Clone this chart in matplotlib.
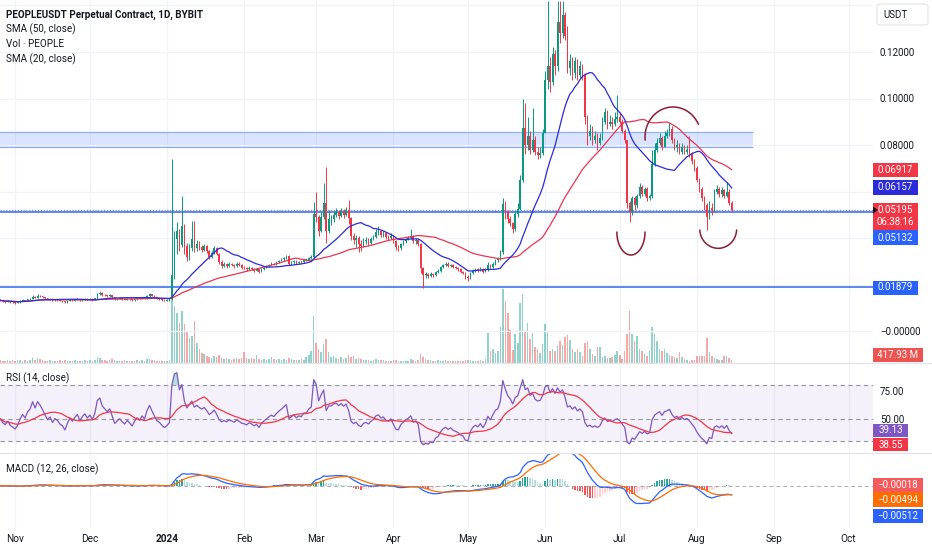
import matplotlib
matplotlib.use('Agg')
import matplotlib.pyplot as plt
from matplotlib.patches import Rectangle, FancyBboxPatch, Polygon
from matplotlib.lines import Line2D
import numpy as np
import pandas as pd

plt.rcParams['font.family'] = ['Roboto', 'DejaVu Sans']

# ---------------- data (prices in 0.001 USDT, volume in millions) ----------------
first_day = '2023-10-26'
first_open_m = 13.4

close_m = [
    13.2, 12.8, 12.6, 12.9, 12.5, 12.3,
    12.1, 12.4, 12.9, 13.3, 13.0, 13.6, 13.9, 14.8, 14.3, 15.2, 14.9, 14.5, 14.0, 13.5, 13.8,
    13.2, 13.6, 13.4, 13.0, 12.8, 12.3, 12.9, 13.4, 13.1, 13.5, 13.8, 13.2, 13.6, 13.9, 13.5,
    13.8, 13.4, 14.0, 15.9, 16.4, 15.6, 15.3, 15.0, 15.4, 14.6, 13.6, 13.9, 14.2, 13.8, 13.5,
    13.9, 13.6, 13.2, 13.7, 14.1, 13.8, 14.3, 14.0, 15.0, 15.8, 15.2, 14.6, 14.0, 13.8, 13.4, 13.1,
    13.3, 13.6, 24.0, 39.5, 43.0, 37.0, 45.0, 36.5, 32.0, 35.5, 39.5, 35.5, 37.5, 36.0, 35.0,
    36.5, 34.5, 32.0, 33.5, 35.5, 33.0, 29.5, 28.0, 28.8, 28.0, 29.0, 28.5, 27.8, 28.8, 28.2, 27.3,
    27.0, 26.5, 27.2, 26.8, 26.0, 26.5, 25.3, 26.5, 27.2, 27.8, 28.5, 29.0, 28.6, 29.5, 30.2,
    30.8, 31.5, 32.2, 29.0, 29.5, 30.0, 29.3, 29.8, 29.6, 30.5, 30.5, 31.5, 32.0, 50.5,
    49.0, 43.0, 49.0, 55.0, 43.0, 48.0, 48.0, 50.0, 51.0, 49.5, 51.5, 50.0, 52.0, 48.5, 41.0,
    39.0, 40.0, 37.5, 36.5, 38.5, 39.0, 38.0, 39.5, 40.5, 42.5, 43.0, 41.5, 42.0, 40.5, 40.0, 41.0,
    38.5, 36.0, 35.5, 37.5, 38.5, 39.5, 40.0, 41.0, 38.5, 39.0, 37.5, 27.0, 24.0, 24.5, 23.8,
    24.5, 24.0, 25.5, 26.0, 27.5, 28.5, 29.0, 28.0, 28.5, 27.5, 27.0, 26.5, 25.5, 25.0, 23.0,
    22.8, 25.0, 26.0, 26.5, 26.0, 26.8, 25.5, 26.5, 28.5, 27.5, 29.0, 30.5, 31.0, 34.0, 54.5,
    51.0, 48.0, 46.5, 44.0, 50.5, 52.5, 65.0, 87.5, 80.0, 84.0, 78.0, 82.0, 77.0, 75.5, 76.5, 85.0,
    108, 114, 107, 119, 114, 133, 128, 136, 127, 113, 116, 111, 116, 110, 114,
    110, 92, 84, 86, 82, 84, 81, 83, 90, 94, 89, 90, 89, 91, 92,
    90, 86, 82, 55, 51, 57, 54, 58, 62, 59, 61, 57, 58, 72, 78,
    81, 83, 79, 84, 85, 87, 82, 79, 80, 77, 79, 77, 78, 76, 73, 70,
    65, 61, 57, 54, 49, 53, 52, 60, 61, 59, 60.5, 58, 60, 55, 51.95,
]

high_m = [
    13.6, 13.4, 13.1, 13.2, 13.0, 12.8,
    12.6, 12.8, 13.3, 13.7, 13.5, 13.9, 14.3, 15.6, 15.0, 15.8, 15.4, 15.0, 14.6, 14.1, 14.2,
    14.0, 13.9, 13.8, 13.6, 13.2, 13.0, 13.2, 13.7, 13.6, 13.8, 14.1, 13.9, 13.9, 14.3, 14.1,
    14.0, 14.0, 14.3, 16.3, 17.0, 16.6, 15.9, 15.6, 15.8, 15.5, 14.7, 14.2, 14.6, 14.3, 14.0,
    14.2, 14.0, 13.8, 13.9, 14.4, 14.3, 14.6, 14.5, 15.3, 16.3, 16.0, 15.3, 14.8, 14.3, 14.0, 13.6,
    13.8, 14.2, 74.0, 43.0, 47.0, 44.0, 58.0, 46.0, 38.0, 37.5, 47.5, 47.5, 39.0, 38.5, 37.0,
    37.5, 37.0, 35.0, 34.5, 36.5, 36.0, 33.5, 30.5, 29.6, 29.2, 29.5, 29.4, 29.0, 29.5, 29.6, 28.8,
    27.8, 27.5, 27.8, 27.6, 27.0, 27.0, 26.6, 26.9, 27.6, 28.3, 29.0, 29.6, 29.4, 29.9, 30.6,
    31.3, 31.9, 32.8, 32.5, 30.2, 30.4, 30.4, 30.2, 30.3, 31.0, 31.0, 32.0, 32.8, 55.5,
    59.8, 50.0, 51.0, 63.7, 70.5, 52.0, 50.0, 51.5, 53.0, 52.0, 53.0, 52.5, 53.5, 56.3, 49.0,
    42.0, 41.5, 41.0, 39.0, 40.0, 40.5, 40.0, 40.5, 41.5, 44.0, 45.0, 43.5, 43.0, 42.5, 41.5, 42.0,
    41.5, 39.0, 37.0, 38.0, 39.0, 40.0, 41.0, 44.0, 41.5, 40.0, 39.5, 38.0, 27.5, 25.5, 25.0,
    25.5, 25.0, 26.0, 26.5, 28.0, 29.0, 29.8, 29.5, 29.0, 28.8, 28.0, 27.5, 27.0, 26.0, 25.5,
    24.0, 25.5, 26.5, 27.0, 27.0, 27.5, 27.0, 27.0, 29.5, 29.0, 29.5, 31.0, 32.0, 35.0, 57.0,
    56.0, 52.0, 49.5, 47.0, 51.5, 55.0, 67.0, 100.0, 98.0, 92.0, 86.0, 96.0, 84.0, 79.0, 79.0, 87.0,
    112, 142, 118, 122, 121, 142, 142, 142, 137, 131, 119, 118, 118, 117, 116,
    115, 111, 93, 89, 88, 86, 85, 85, 92, 96, 95, 93, 92, 94, 101.5,
    94, 91, 87, 82, 56, 58, 58, 59, 63.7, 63, 62, 62, 59, 77.8, 81,
    83, 85, 84, 86, 87, 89.5, 88, 83, 82, 81, 81, 80, 80, 84, 77, 74,
    71, 66, 62, 58, 55, 56, 55, 61, 63, 62, 62, 61, 64, 61, 56,
]

low_m = [
    12.7, 12.4, 12.2, 12.4, 12.1, 11.9,
    11.8, 11.9, 12.2, 12.8, 12.7, 12.9, 13.4, 13.8, 14.0, 14.1, 14.5, 14.2, 13.7, 13.2, 13.3,
    12.9, 13.0, 13.1, 12.7, 12.4, 11.9, 12.1, 12.7, 12.8, 13.0, 13.3, 12.9, 13.1, 13.4, 13.2,
    13.3, 13.1, 13.2, 13.9, 15.5, 15.2, 14.9, 14.6, 14.8, 14.3, 13.3, 13.4, 13.7, 13.5, 13.2,
    13.3, 13.3, 12.9, 13.0, 13.5, 13.6, 13.7, 13.8, 13.9, 14.8, 15.0, 14.4, 13.8, 13.5, 13.1, 12.8,
    12.9, 13.0, 13.2, 22.5, 33.0, 34.5, 36.0, 33.0, 30.0, 30.5, 34.5, 34.0, 34.5, 34.8, 33.8,
    34.5, 33.5, 31.0, 31.2, 33.0, 32.5, 28.8, 27.0, 27.5, 27.3, 27.6, 27.8, 27.0, 27.4, 27.8, 26.5,
    26.5, 26.0, 26.2, 26.3, 25.5, 25.6, 25.0, 25.2, 26.3, 27.0, 27.5, 28.3, 28.2, 28.4, 29.2,
    29.9, 30.1, 31.0, 28.4, 28.6, 29.0, 28.9, 29.0, 29.2, 29.3, 30.0, 30.2, 31.0, 31.6,
    47.0, 41.0, 42.5, 48.0, 37.8, 42.0, 45.5, 47.0, 49.0, 48.0, 49.0, 48.5, 49.5, 46.0, 39.0,
    37.5, 36.0, 34.0, 34.5, 36.0, 37.5, 37.0, 37.5, 39.0, 40.0, 41.5, 40.5, 40.5, 39.5, 39.0, 39.5,
    38.0, 35.0, 34.5, 35.0, 37.0, 38.0, 39.0, 39.5, 38.0, 37.5, 36.5, 25.0, 18.5, 23.0, 23.0,
    23.3, 23.3, 23.5, 25.0, 25.5, 27.0, 28.0, 27.5, 27.5, 27.0, 26.5, 26.0, 25.0, 24.5, 22.5,
    21.3, 22.5, 24.5, 25.5, 25.5, 25.8, 25.0, 25.2, 26.0, 27.0, 27.2, 28.5, 29.8, 30.5, 33.0,
    48.0, 46.5, 45.0, 42.0, 43.0, 49.0, 52.0, 64.0, 76.0, 78.0, 76.0, 77.0, 75.5, 74.0, 74.5, 75.5,
    85, 104, 103, 106, 110, 112, 124, 126, 125, 111, 110, 108, 109, 108, 109,
    108, 89, 80, 82, 80, 81, 78, 80, 82, 89, 87, 88, 87, 88, 90,
    89, 85, 81, 53, 47, 50, 52, 53, 57, 58, 58, 56, 56.3, 57, 71,
    77, 80, 78, 79, 83, 84, 81, 78, 77, 76, 76, 76, 76, 75, 72, 69,
    64, 60, 56, 52, 43.4, 48, 50, 51, 59, 57.5, 57.6, 57, 57.5, 54, 51.5,
]

volume_mil = [
    450, 300, 300, 450, 300, 450,
    300, 450, 450, 300, 450, 300, 450, 750, 450, 750, 600, 450, 300, 300, 450,
    300, 300, 300, 450, 300, 450, 300, 300, 300, 450, 300, 300, 300, 450, 300,
    450, 300, 450, 900, 750, 450, 450, 300, 450, 600, 450, 300, 300, 300, 450,
    300, 300, 300, 300, 450, 300, 450, 300, 600, 600, 450, 450, 300, 300, 300, 300,
    300, 450, 12750, 8550, 7500, 6000, 7800, 5850, 4800, 3750, 4050, 6300, 3000, 2100, 1500,
    1350, 1050, 900, 750, 1050, 900, 1200, 750, 600, 750, 600, 450, 600, 750, 600, 750,
    1650, 750, 600, 750, 600, 1200, 600, 450, 600, 450, 600, 900, 600, 450, 600,
    450, 600, 450, 750, 600, 450, 450, 450, 600, 450, 900, 1200, 1800, 7050,
    3000, 2100, 1650, 2850, 3600, 1650, 900, 1050, 750, 600, 900, 600, 750, 1200, 900,
    1050, 600, 750, 600, 450, 450, 450, 300, 450, 600, 450, 450, 450, 300, 300, 300,
    450, 450, 300, 300, 300, 300, 300, 600, 450, 300, 450, 1350, 900, 600, 450,
    450, 300, 300, 450, 300, 300, 450, 300, 300, 300, 300, 300, 300, 300, 450,
    450, 450, 300, 300, 300, 450, 300, 600, 4500, 1800, 2100, 1500, 1800, 5400, 11100,
    9300, 7500, 4950, 1950, 4350, 3000, 9000, 10350, 4800, 6000, 3600, 4500, 2400, 2100, 1500, 2850,
    5850, 4800, 1800, 2100, 1800, 2550, 3300, 2700, 3900, 4200, 3450, 2100, 1650, 2100, 1650,
    1050, 3000, 3300, 2100, 1350, 1050, 2400, 2400, 900, 1050, 750, 750, 900, 1200, 1800,
    1200, 600, 1800, 4350, 7800, 4350, 3300, 4050, 2100, 1800, 1350, 1050, 1800, 5400, 4350,
    3300, 2100, 1800, 2100, 1500, 1200, 1050, 900, 750, 1650, 900, 600, 450, 300, 450, 450,
    1050, 1050, 1050, 1050, 3750, 1650, 1050, 750, 600, 450, 450, 1050, 1050, 750, 417.93,
]

zone_low, zone_high = 0.0790, 0.0857
zone_end = '2024-08-23 12:00'
support_lines = [0.05132, 0.01879]
last_price = 0.05195

# hand drawn arcs: centre date, centre price, width (days), height (price), theta1, theta2
arcs = [
    ('2024-07-05 12:00', 0.04258, 11.3, 0.0198, 180, 360),
    ('2024-07-22 10:00', 0.08344, 22.5, 0.0258, 25, 186),
    ('2024-08-09 14:00', 0.04387, 14.8, 0.0166, 183, 357),
]

price_tags = [(170, '0.06917', '#f23645'), (187.5, '0.06157', '#2b2bd9'),
              (237.5, '0.05132', '#2962ff'), (287.5, '0.01879', '#2962ff')]
rsi_tags = [(430.3, '39.13', '#7e57c2'), (444.7, '38.55', '#f23645')]
macd_tags = [(485, '\u22120.00018', '#f4595c'), (499.7, '\u22120.00494', '#ff6d00'),
             (515.8, '\u22120.00512', '#2962ff')]

# ---------------- derived series ----------------
W, H = 932, 550
PLOT_R = 873
jan1 = pd.Timestamp('2024-01-01')

close = np.array(close_m) / 1000
high = np.array(high_m) / 1000
low = np.array(low_m) / 1000
vol = np.array(volume_mil)
dates = pd.date_range(first_day, periods=len(close), freq='D')
x = np.asarray((dates - jan1).days, dtype=float)
opn = np.r_[first_open_m / 1000, close[:-1]]
high = np.maximum(high, np.maximum(opn, close))
low = np.minimum(low, np.minimum(opn, close))
up = close >= opn

cs = pd.Series(close)
sma20 = cs.rolling(20, min_periods=1).mean()
sma50 = cs.rolling(50, min_periods=1).mean()

delta = cs.diff()
gain = delta.clip(lower=0)
loss = -delta.clip(upper=0)
seed = delta.abs().iloc[1:15].mean() / 2
gain.iloc[0] = seed
loss.iloc[0] = seed
avg_g = gain.ewm(alpha=1 / 14, adjust=False).mean()
avg_l = loss.ewm(alpha=1 / 14, adjust=False).mean()
rsi = 100 - 100 / (1 + avg_g / avg_l)
rsi_ma = rsi.rolling(14, min_periods=1).mean()

ema12 = cs.ewm(span=12, adjust=False).mean()
ema26 = cs.ewm(span=26, adjust=False).mean()
macd = ema12 - ema26
signal = macd.ewm(span=9, adjust=False).mean()
hist = macd - signal
prev = hist.shift(1).fillna(0)
hist_col = np.where(hist >= 0, np.where(hist > prev, '#26a69a', '#b2dfdb'),
                    np.where(hist > prev, '#ffcdd2', '#ff5252'))


def dx(s):
    return (pd.Timestamp(s) - jan1) / pd.Timedelta(days=1)


def rect(top, bottom):
    return [0, 1 - bottom / H, PLOT_R / W, (bottom - top) / H]


months = pd.date_range('2023-11-01', '2024-10-01', freq='MS')
mx = np.asarray((months - jan1).days, dtype=float)
mlab = ['2024' if m.month == 1 else m.strftime('%b') for m in months]
XL = (-67.1, 283.8)

# ---------------- figure ----------------
fig = plt.figure(figsize=(W / 100, H / 100), dpi=100)
fig.patch.set_facecolor('white')

ax_vol = fig.add_axes(rect(0, 363))
ax = fig.add_axes(rect(0, 363))
ax.set_facecolor('none')
ax_rsi = fig.add_axes(rect(363, 453))
ax_macd = fig.add_axes(rect(453, 528))

for a in (ax_vol, ax, ax_rsi, ax_macd):
    a.set_xlim(*XL)
    for s in a.spines.values():
        s.set_visible(False)
    a.set_xticks(mx)
    a.tick_params(axis='both', length=0, labelbottom=False, labelleft=False)

for a in (ax_vol, ax_rsi, ax_macd):
    a.grid(True, axis='x', color='#f0f3fa', lw=0.9)
    a.set_axisbelow(True)

# volume
ax_vol.set_ylim(0, 363 * 150)
ax_vol.set_yticks([])
ax_vol.bar(x, vol, width=0.62, color=np.where(up, '#26a69a', '#ef5350'), alpha=0.5, lw=0)

# price pane
ax.set_ylim((331 - 363) / 2325, 331 / 2325)
ticks = np.arange(0, 0.141, 0.02)
ax.set_yticks(ticks)
ax.yaxis.tick_right()
ax.set_yticklabels(['\u22120.00000', '', '', '', '0.08000', '0.10000', '0.12000', ''])
ax.tick_params(axis='y', labelright=True, pad=5, labelsize=7, labelcolor='#131722')
ax.grid(True, axis='y', color='#f0f3fa', lw=0.9)

x_zone_end = dx(zone_end)
ax.add_patch(Rectangle((XL[0] - 5, zone_low), x_zone_end - XL[0] + 5, zone_high - zone_low,
                       facecolor='#2962ff', alpha=0.17, lw=0, zorder=1))
ax.hlines([zone_low, zone_high], XL[0] - 5, x_zone_end, color='#8fb0f2', lw=0.9, zorder=1)

for p in support_lines:
    ax.axhline(p, color='#2f66f0', lw=1.1, zorder=2)
ax.axhline(last_price, color='#8c7fd8', lw=0.9, ls=(0, (1, 1.3)), zorder=2)

cols = np.where(up, '#089981', '#f23645')
ax.vlines(x, low, high, colors=cols, lw=0.7, zorder=3)
body_lo = np.minimum(opn, close)
body_h = np.maximum(np.abs(close - opn), 0.0003)
ax.bar(x, body_h, bottom=body_lo, width=0.62, color=cols, lw=0, zorder=3)

ax.plot(x, sma50, color='#e8364e', lw=0.9, zorder=4)
ax.plot(x, sma20, color='#2b2bd9', lw=0.9, zorder=4)

# elliptical arcs drawn in data space (axes have very different x/y scales)
for cx, cy, w, h, t1, t2 in arcs:
    t = np.radians(np.linspace(t1, t2, 80))
    ax.plot(dx(cx) + w / 2 * np.cos(t), cy + h / 2 * np.sin(t),
            color='#8c1d30', lw=1.1, zorder=5, solid_capstyle='round')

# RSI pane
ax_rsi.set_ylim(19.05, 100.3)
ax_rsi.fill_between(XL, 30, 80, color='#7e57c2', alpha=0.08, lw=0)
for lvl in (80, 50, 30):
    ax_rsi.axhline(lvl, color='#9598a1', lw=0.8, ls=(0, (4, 3)))
rv = rsi.values
ax_rsi.fill_between(x, 80, rv, where=rv > 80, interpolate=True, color='#26a69a', alpha=0.35, lw=0)
ax_rsi.fill_between(x, 30, rv, where=rv < 30, interpolate=True, color='#f23645', alpha=0.25, lw=0)
ax_rsi.plot(x, rv, color='#7e57c2', lw=0.9)
ax_rsi.plot(x, rsi_ma, color='#f23645', lw=0.9)
ax_rsi.yaxis.tick_right()
ax_rsi.set_yticks([50, 75])
ax_rsi.set_yticklabels(['50.00', '75.00'])
ax_rsi.tick_params(axis='y', labelright=True, pad=5, labelsize=7, labelcolor='#131722')

# MACD pane
ax_macd.set_ylim(-0.0227, 0.0176)
ax_macd.axhline(0, color='#9598a1', lw=0.7, ls=(0, (4, 3)), alpha=0.8)
ax_macd.bar(x, hist, width=0.62, color=hist_col, lw=0)
ax_macd.plot(x, macd, color='#2962ff', lw=0.9)
ax_macd.plot(x, signal, color='#ff6d00', lw=0.9)
ax_macd.set_yticks([])
ax_macd.set_xticklabels(mlab)
ax_macd.tick_params(axis='x', labelbottom=True, pad=4, labelsize=7.2, labelcolor='#131722')
ax_macd.get_xticklabels()[2].set_fontweight('bold')

# pane separators
for yy in (363, 453):
    fig.add_artist(Line2D([0, 1], [1 - yy / H] * 2, color='#e0e3eb', lw=0.9))


def ftext(px, py, s, **kw):
    fig.text(px / W, 1 - py / H, s, **kw)


def tag(py, s, color, w=45, h=14):
    fig.add_artist(Rectangle((PLOT_R / W, 1 - (py + h / 2) / H), w / W, h / H,
                             transform=fig.transFigure, facecolor=color, lw=0))
    ftext(PLOT_R + w / 2, py, s, color='white', ha='center', va='center', fontsize=7)


for py, s, c in price_tags:
    tag(py, s, c)
fig.add_artist(Rectangle((PLOT_R / W, 1 - 229.5 / H), 45 / W, 26.5 / H,
                         transform=fig.transFigure, facecolor='#f23645', lw=0))
ftext(PLOT_R + 22.5, 210, '0.05195', color='white', ha='center', va='center', fontsize=7)
ftext(PLOT_R + 22.5, 222, '06:38:16', color='white', ha='center', va='center', fontsize=7)
fig.add_artist(Polygon([[PLOT_R / W, 1 - 206.5 / H], [PLOT_R / W, 1 - 213.5 / H],
                        [(PLOT_R + 5) / W, 1 - 210 / H]], closed=True,
                       transform=fig.transFigure, facecolor='#131722', lw=0))
tag(355, '417.93 M', '#ef5350', w=50, h=14.5)
for py, s, c in rsi_tags:
    tag(py, s, c, w=35, h=13.5)
for py, s, c in macd_tags:
    tag(py, s, c, w=50, h=14.5)

fig.add_artist(FancyBboxPatch((877 / W, 1 - 25 / H), 51 / W, 21 / H,
                              boxstyle='round,pad=0,rounding_size=0.004',
                              transform=fig.transFigure, facecolor='white',
                              edgecolor='#e0e3eb', lw=0.8))
ftext(883, 14.5, 'USDT', color='#131722', ha='left', va='center', fontsize=7)

# legends
ftext(6, 14.5, 'PEOPLEUSDT Perpetual Contract, 1D, BYBIT', color='#131722',
      fontsize=7.1, fontweight='bold', va='center')
ftext(6, 29, 'SMA (50, close)', color='#131722', fontsize=7.1, va='center')
ftext(6, 44, 'Vol \u00b7 PEOPLE', color='#131722', fontsize=7.1, va='center')
ftext(6, 59, 'SMA (20, close)', color='#131722', fontsize=7.1, va='center')
ftext(6, 378, 'RSI (14, close)', color='#131722', fontsize=7.1, va='center')
ftext(6, 469, 'MACD (12, 26, close)', color='#131722', fontsize=7.1, va='center')

fig.savefig('out.png', dpi=100, facecolor='white')
